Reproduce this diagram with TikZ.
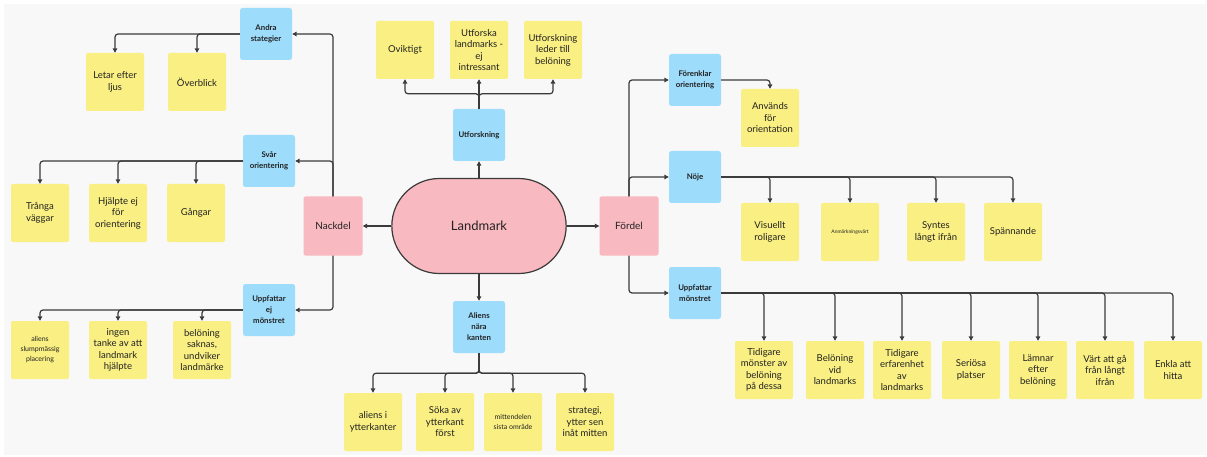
\documentclass[tikz,border=0pt]{standalone}
\usepackage{fontspec}
\setmainfont{Lato}
\usetikzlibrary{arrows.meta,shapes.misc}
\definecolor{bgc}{HTML}{F8F8F8}
\definecolor{stk}{HTML}{FAEF82}
\definecolor{blu}{HTML}{9DDCFB}
\definecolor{pnk}{HTML}{F9B9C0}
\definecolor{lnc}{HTML}{3A3A3A}
\definecolor{txc}{HTML}{222222}
\tikzset{
  sticky/.style={fill=stk, rounded corners=2pt, minimum width=58pt, minimum height=58pt, inner sep=1pt, align=center, text=txc, font=\fontsize{9.5}{11.5}\selectfont},
  smallsticky/.style={sticky, font=\fontsize{7}{10}\selectfont},
  tinysticky/.style={sticky, font=\fontsize{5}{6}\selectfont},
  bluebox/.style={fill=blu, rounded corners=2.5pt, minimum width=52pt, minimum height=52pt, inner sep=1pt, align=center, text=txc, font=\bfseries\fontsize{7.8}{11}\selectfont},
  pinkbox/.style={fill=pnk, rounded corners=2pt, minimum width=59pt, minimum height=59pt, inner sep=1pt, align=center, text=txc, font=\fontsize{10}{12}\selectfont},
  arr/.style={draw=lnc, line width=1.2pt, rounded corners=3pt, -{Triangle[length=4.5pt,width=4.5pt]}},
  ln/.style={draw=lnc, line width=1.2pt, rounded corners=3pt}
}
\begin{document}
\begin{tikzpicture}[x=1pt,y=-1pt]
\useasboundingbox (0,0) rectangle (1207,457);
\fill[white] (0,0) rectangle (1207,457);
\fill[bgc] (4,4) rectangle (1206,455);

% centre
\node[rounded rectangle, draw=lnc, line width=1.2pt, fill=pnk, minimum width=181pt, minimum height=95pt, text=txc, font=\fontsize{13}{15}\selectfont] (land) at (479,226) {Landmark};
\node[pinkbox] (nack) at (333,226) {Nackdel};
\node[pinkbox] (ford) at (629,226) {Fördel};

% left branch
\node[bluebox] (andra) at (266,34) {Andra\\stategier};
\node[bluebox] (svar) at (269,161) {Svår\\orientering};
\node[bluebox] (uej) at (269,310) {Uppfattar\\ej\\mönstret};

\node[sticky] (letar) at (115,82) {Letar efter\\ljus};
\node[sticky] (overb) at (197,82) {Överblick};

\node[sticky] (trang) at (40,213) {Trånga\\väggar};
\node[sticky] (hjalp) at (118,213) {Hjälpte ej\\för\\orientering};
\node[sticky] (gang) at (196,213) {Gångar};

\node[smallsticky] (slump) at (40,350) {aliens\\slumpmässig\\placering};
\node[sticky] (ingen) at (118,350) {ingen\\tanke av att\\landmark\\hjälpte};
\node[sticky] (belsak) at (202,350) {belöning\\saknas,\\undviker\\landmärke};

% top branch
\node[bluebox] (utf) at (479,135) {Utforskning};
\node[sticky] (ovik) at (405,50) {Oviktigt};
\node[sticky] (utfl) at (479,50) {Utforska\\landmarks -\\ej\\intressant};
\node[sticky] (utfb) at (553,50) {Utforskning\\leder till\\belöning};

% bottom branch
\node[bluebox] (ali) at (479,327) {Aliens\\nära\\kanten};
\node[sticky] (ytt) at (373,422) {aliens i\\ytterkanter};
\node[sticky] (soka) at (445,422) {Söka av\\ytterkant\\först};
\node[smallsticky] (mitt) at (513,422) {mittendelen\\sista område};
\node[sticky] (strat) at (585,422) {strategi,\\ytter sen\\inåt mitten};

% right branch
\node[bluebox] (foren) at (695,80) {Förenklar\\orientering};
\node[bluebox] (noje) at (695,177) {Nöje};
\node[bluebox] (upm) at (695,293) {Uppfattar\\mönstret};

\node[sticky] (anv) at (770,118) {Används\\för\\orientation};

\node[sticky] (vis) at (770,232) {Visuellt\\roligare};
\node[tinysticky] (anm) at (850,232) {Anmärkningsvärt};
\node[sticky] (synt) at (936,232) {Syntes\\långt ifrån};
\node[sticky] (spann) at (1013,232) {Spännande};

\node[sticky] (t1) at (764,370) {Tidigare\\mönster av\\belöning\\på dessa};
\node[sticky] (t2) at (835,370) {Belöning\\vid\\landmarks};
\node[sticky] (t3) at (902,370) {Tidigare\\erfarenhet\\av\\landmarks};
\node[sticky] (t4) at (971,370) {Seriösa\\platser};
\node[sticky] (t5) at (1038,370) {Lämnar\\efter\\belöning};
\node[sticky] (t6) at (1105,370) {Värt att gå\\från långt\\ifrån};
\node[sticky] (t7) at (1173,370) {Enkla att\\hitta};

% connectors: centre
\draw[arr] (land.west) -- (nack.east);
\draw[arr] (land.east) -- (ford.west);
\draw[arr] (land.north) -- (utf.south);
\draw[arr] (land.south) -- (ali.north);

% Nackdel
\draw[arr] (nack.north) |- (andra.east);
\draw[arr] (nack.north) |- (svar.east);
\draw[arr] (nack.south) |- (uej.east);
\draw[arr] (andra.west) -| (letar.north);
\draw[arr] (andra.west) -| (overb.north);
\draw[arr] (svar.west) -| (trang.north);
\draw[arr] (svar.west) -| (hjalp.north);
\draw[arr] (svar.west) -| (gang.north);
\draw[arr] (uej.west) -| (slump.north);
\draw[arr] (uej.west) -| (ingen.north);
\draw[arr] (uej.west) -| (belsak.north);

% Utforskning
\draw[arr] (utf.north) -- (utfl.south);
\draw[arr] (utf.north) -- ++(0,-15) -| (ovik.south);
\draw[arr] (utf.north) -- ++(0,-15) -| (utfb.south);

% Aliens
\draw[arr] (ali.south) -- ++(0,20) -| (ytt.north);
\draw[arr] (ali.south) -- ++(0,20) -| (soka.north);
\draw[arr] (ali.south) -- ++(0,20) -| (mitt.north);
\draw[arr] (ali.south) -- ++(0,20) -| (strat.north);

% Fördel
\draw[arr] (ford.north) |- (foren.west);
\draw[arr] (ford.north) |- (noje.west);
\draw[arr] (ford.south) |- (upm.west);
\draw[arr] (foren.east) -| (anv.north);
\draw[arr] (noje.east) -| (vis.north);
\draw[arr] (noje.east) -| (anm.north);
\draw[arr] (noje.east) -| (synt.north);
\draw[arr] (noje.east) -| (spann.north);
\draw[arr] (upm.east) -| (t1.north);
\draw[arr] (upm.east) -| (t2.north);
\draw[arr] (upm.east) -| (t3.north);
\draw[arr] (upm.east) -| (t4.north);
\draw[arr] (upm.east) -| (t5.north);
\draw[arr] (upm.east) -| (t6.north);
\draw[arr] (upm.east) -| (t7.north);
\end{tikzpicture}
\end{document}
